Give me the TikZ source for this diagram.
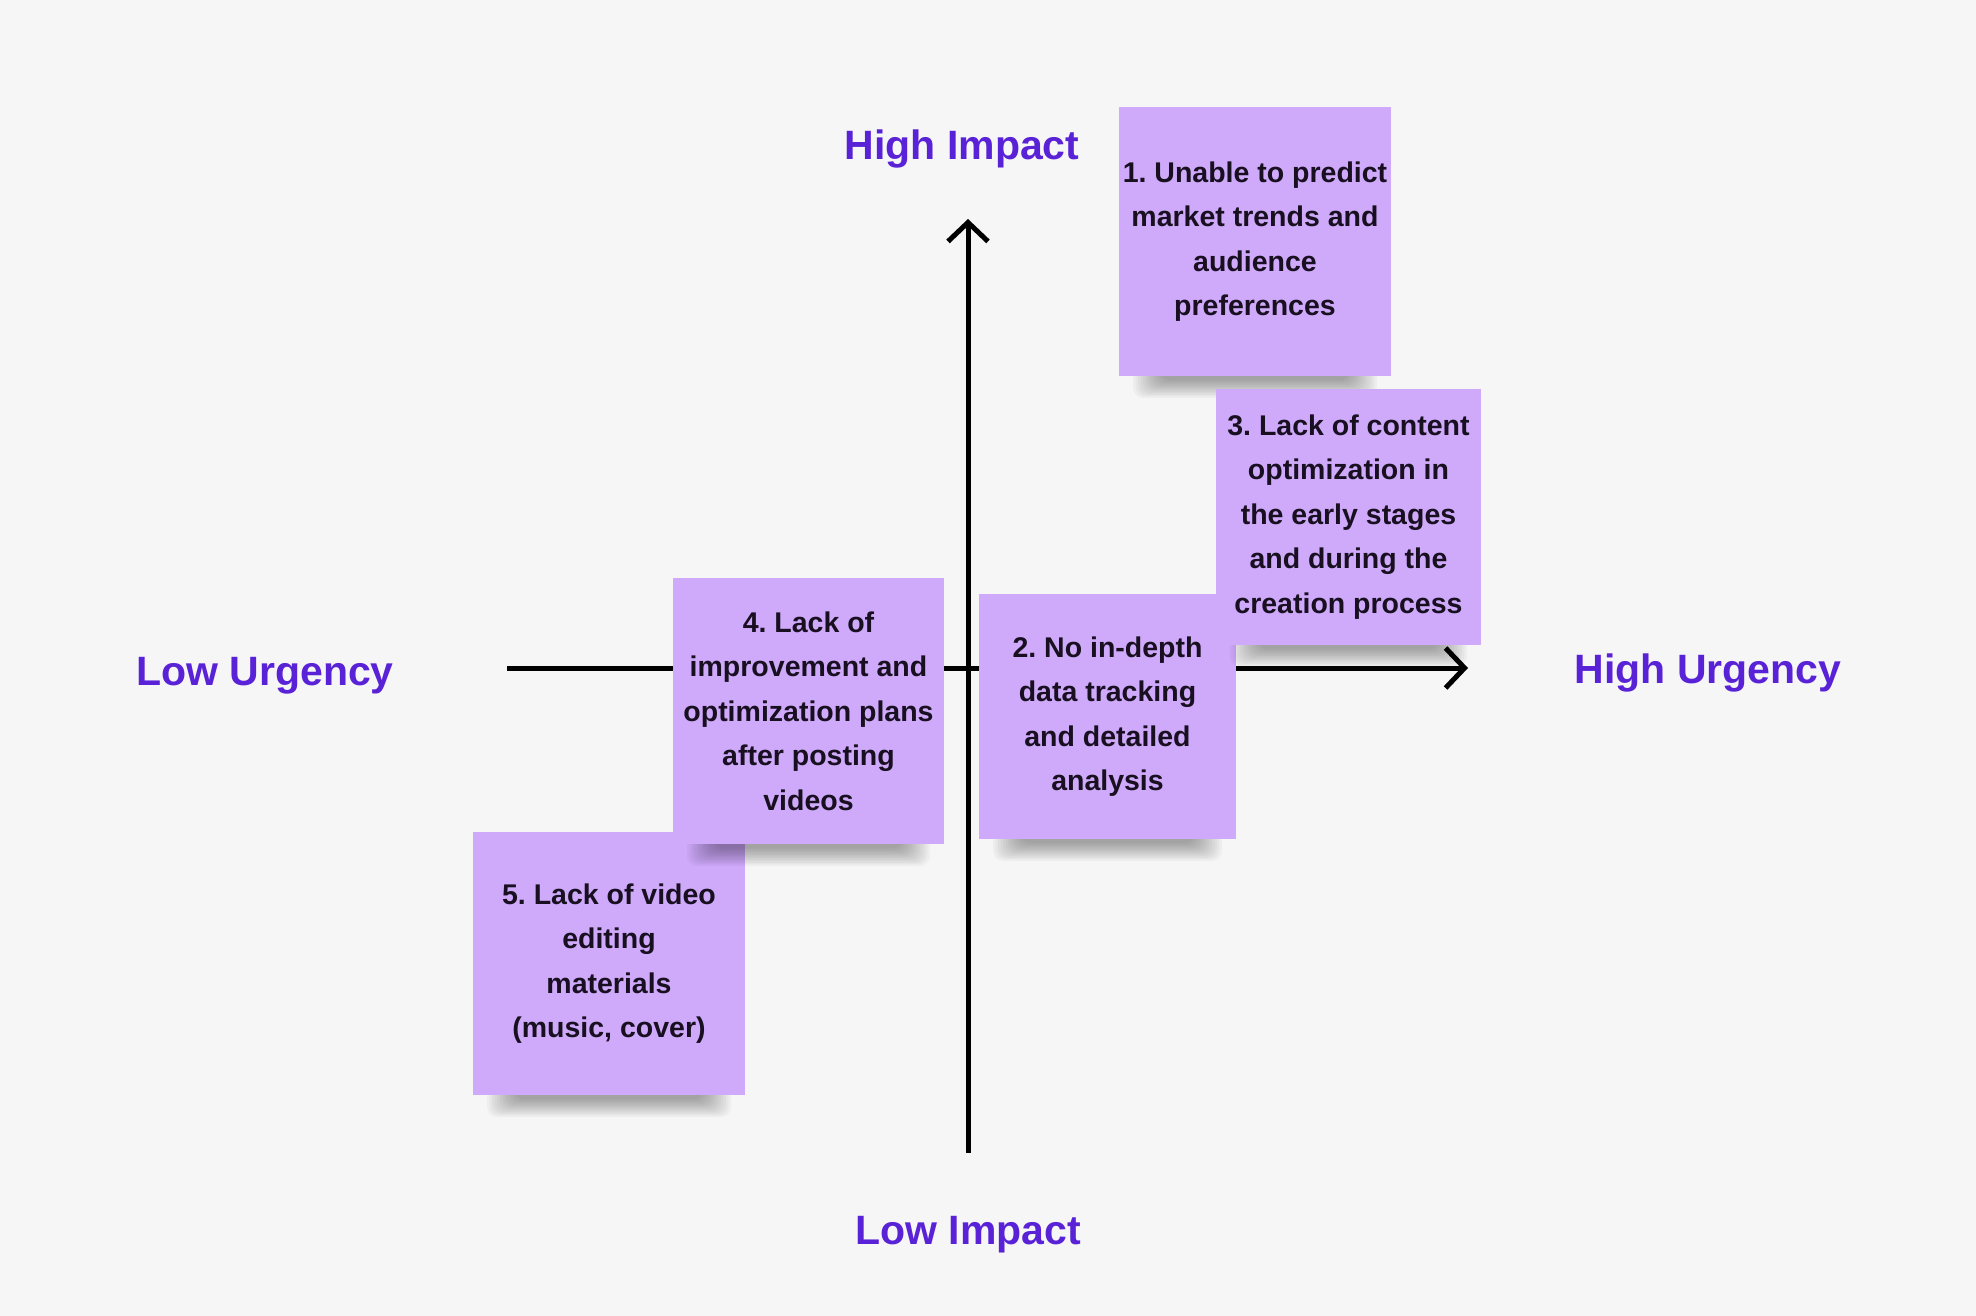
\documentclass[tikz,border=0pt]{standalone}
\usepackage{fontspec}
\setmainfont{Liberation Sans}
\usetikzlibrary{arrows.meta,calc}
\definecolor{bg}{RGB}{246,246,247}
\definecolor{note}{RGB}{207,169,250}
\definecolor{lbl}{RGB}{90,34,214}
\definecolor{ink}{RGB}{24,16,32}
\frenchspacing
\tikzset{
  sticky/.style={fill=note, inner sep=0pt, text=ink, font=\bfseries\fontsize{28.5}{44.5}\selectfont, align=center},
  axislabel/.style={text=lbl, font=\bfseries\fontsize{41}{48}\selectfont, anchor=base, inner sep=0pt},
  axisline/.style={line width=5pt, draw=black, -{Straight Barb[length=19pt,width=40pt]}},
}
\newcommand\noteshadow[3]{%
  \foreach \i in {0,...,11}{
    \fill[black, opacity=0.03, rounded corners=10pt] ({#1+14+2.5*\i}, {#3-12}) rectangle ({#2-14-2.5*\i}, {#3+22-1.6*\i});
  }}
\begin{document}
\begin{tikzpicture}[x=1pt,y=-1pt]
\fill[bg] (0,0) rectangle (1976,1316);
\useasboundingbox (0,0) rectangle (1976,1316);

% axes
\coordinate (hl) at (507,668);
\coordinate (hr) at (1468,668);
\coordinate (vb) at (968,1153);
\coordinate (vt) at (968,219);
\draw[axisline] (hl) -- (hr);
\draw[axisline] (vb) -- (vt);

% axis labels
\node[axislabel] (hi) at (962,160) {High Impact};
\node[axislabel] (li) at (968,1244) {Low Impact};
\node[axislabel] (lu) at (265,685) {Low Urgency};
\node[axislabel] (hu) at (1708,683) {High Urgency};

% box 5
\noteshadow{473}{745}{1095}
\node[sticky, minimum width=272pt, minimum height=263pt] (n5) at (609,963.5)
  {5. Lack of video\\editing\\materials\\(music, cover)};
% box 4
\noteshadow{673}{944}{844}
\node[sticky, minimum width=271pt, minimum height=266pt] (n4) at (808.5,711)
  {4. Lack of\\improvement and\\optimization plans\\after posting\\videos};
% box 2
\noteshadow{979}{1236}{839}
\node[sticky, minimum width=257pt, minimum height=245pt] (n2) at (1107.5,716.5)
  {2. No in-depth\\data tracking\\and detailed\\analysis};
% box 1
\noteshadow{1119}{1391}{376}
\node[sticky, minimum width=272pt, minimum height=269pt] (n1) at (1255,241.5)
  {1. Unable to predict\\market trends and\\audience\\preferences};
% box 3
\noteshadow{1216}{1481}{645}
\node[sticky, minimum width=265pt, minimum height=256pt] (n3) at (1348.5,517)
  {3. Lack of content\\optimization in\\the early stages\\and during the\\creation process};
\end{tikzpicture}
\end{document}
